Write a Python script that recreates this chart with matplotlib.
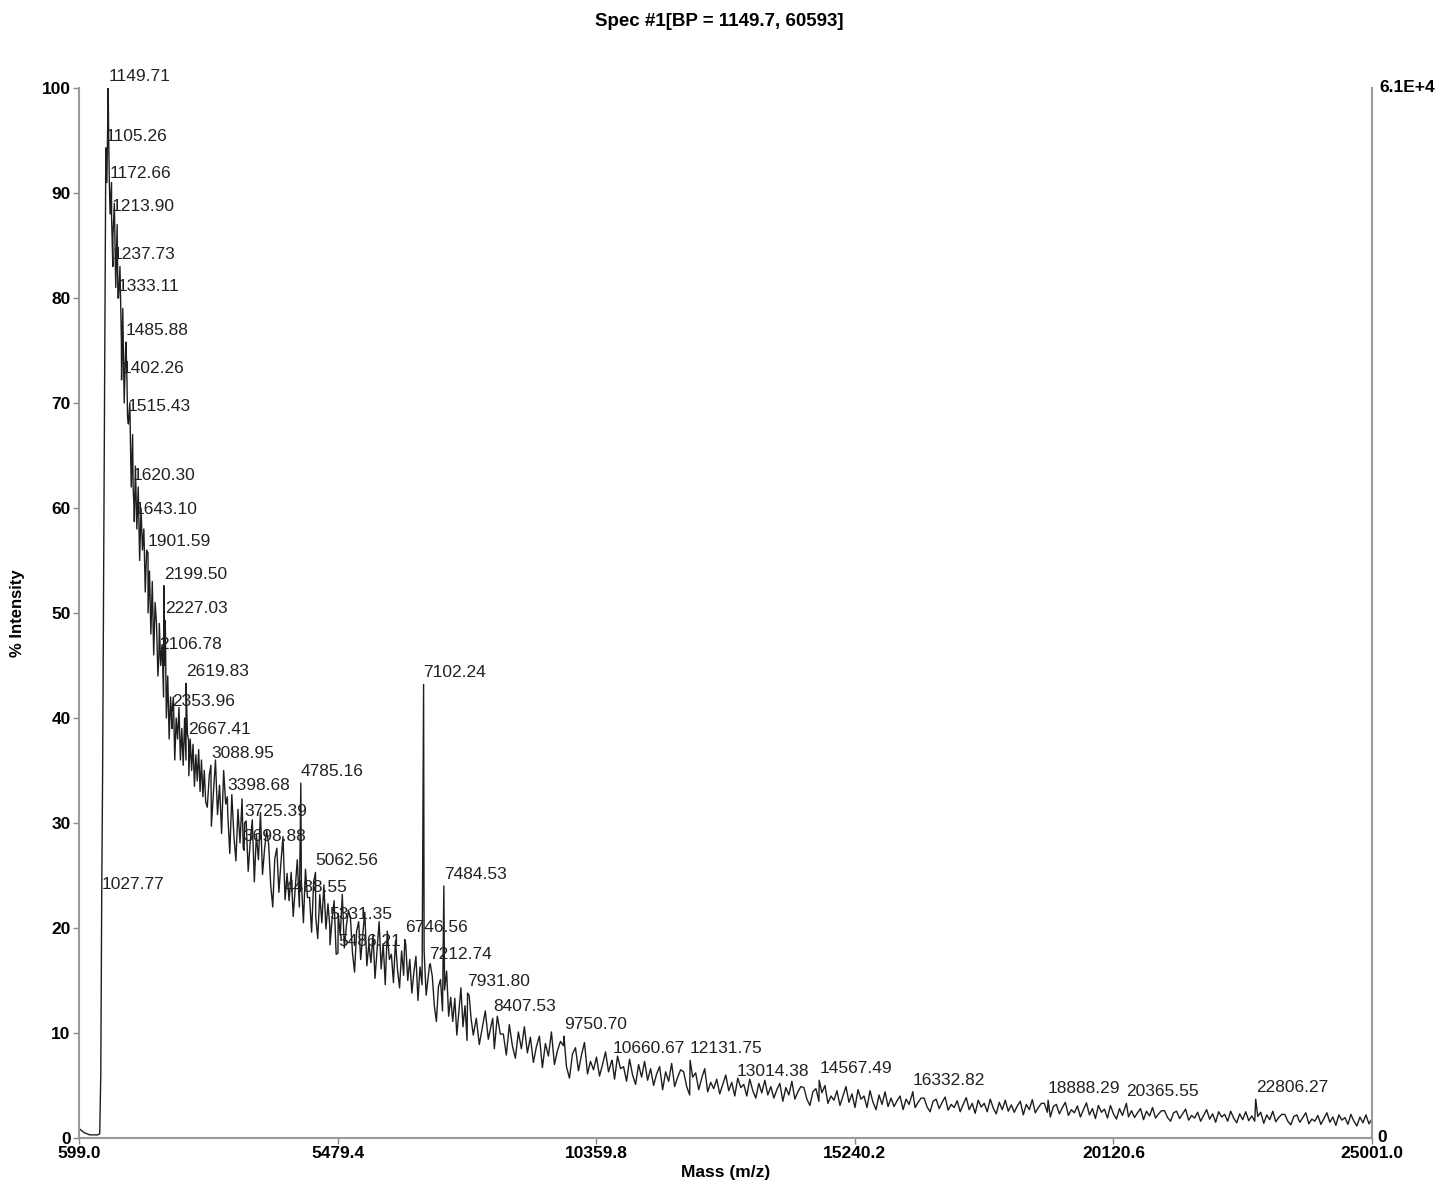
import numpy as np
import matplotlib
matplotlib.use("Agg")
import matplotlib.pyplot as plt

plt.rcParams['font.family'] = ['Liberation Sans', 'DejaVu Sans']

title = "Spec #1[BP = 1149.7, 60593]"
x_ticks = [599.0, 5479.4, 10359.8, 15240.2, 20120.6, 25001.0]
y_ticks = [0, 10, 20, 30, 40, 50, 60, 70, 80, 90, 100]
right_top_label = "6.1E+4"

# low-mass start and rising edge (mass, % intensity)
start_mass = [599, 650, 700, 750, 800, 850, 900, 950, 990, 1010, 1045, 1065, 1085, 1125]
start_int = [0.9, 0.7, 0.5, 0.4, 0.3, 0.3, 0.3, 0.3, 0.4, 6, 35, 55, 75, 91]

# profile 1160 -> 2990
segC_range = (1160, 2990)
segC_int = [95, 88, 91, 86, 89,
            81, 87, 80, 83, 76,
            79, 70, 75, 72, 68,
            70, 62, 67, 60, 64,
            58, 62, 55, 60, 56,
            58, 52, 56, 50, 54,
            48, 53, 46, 51, 49,
            44, 49, 45, 47, 42,
            45, 40, 44, 38, 42,
            39, 42, 36, 40, 38,
            41, 36, 39, 35.5, 40,
            36, 38.5, 34.5, 38, 35,
            37.5, 33.5, 36.5, 34, 37,
            33, 36, 32.5, 35, 32]

# profile 3020 -> 8000
segD_range = (3020, 8000)
segD_int = [31.5, 34.6, 29.7, 32.9, 36.0, 30.8, 33.6, 29.0, 35.0, 31.8,
            30.9, 27.1, 32.7, 28.8, 26.4, 31.3, 28.1, 32.3, 27.4, 30.2,
            25.4, 28.2, 30.3, 24.4, 28.9, 26.5, 31.0, 25.1, 27.5, 29.3,
            28.0, 24.1, 22.0, 26.6, 27.6, 23.4, 26.2, 28.7, 22.7, 25.2,
            22.6, 25.3, 21.1, 23.8, 26.5, 22.0, 24.4, 20.5, 25.6, 22.9,
            22.9, 19.6, 24.4, 21.1, 19.0, 23.2, 20.5, 24.1, 19.9, 22.3,
            18.4, 20.8, 22.6, 17.5, 21.4, 19.3, 23.2, 18.1, 20.2, 21.7,
            20.9, 17.6, 15.8, 19.7, 20.6, 17.0, 19.4, 21.5, 16.4, 18.5,
            16.7, 19.4, 15.2, 17.9, 20.6, 16.1, 18.5, 14.6, 19.7, 17.0,
            17.5, 14.8, 18.8, 16.0, 14.3, 17.8, 15.5, 18.5, 15.0, 17.0,
            13.8, 15.8, 17.3, 13.1, 16.3, 14.6, 17.8, 13.6, 15.3, 16.6,
            15.4, 12.6, 11.1, 14.4, 15.1, 12.1, 14.1, 15.9, 11.6, 13.4,
            11.1, 13.3, 9.8, 12.1, 14.3, 10.6, 12.6, 9.3, 13.6, 11.3]

# profile 8040 -> 25000
segE_range = (8040, 25000)
segE_int = [9.8, 11.4, 8.9, 10.5, 12.1, 9.4, 10.8, 8.5, 11.6, 9.9,
            9.9, 7.9, 10.8, 8.8, 7.6, 10.1, 8.5, 10.6, 8.1, 9.6,
            7.2, 8.7, 9.7, 6.7, 9.0, 7.8, 10.1, 7.0, 8.3, 9.2,
            8.8, 6.8, 5.7, 8.0, 8.6, 6.4, 7.9, 9.1, 6.1, 7.3,
            6.5, 7.7, 5.9, 7.0, 8.2, 6.3, 7.3, 5.6, 7.8, 6.6,
            6.8, 5.4, 7.5, 6.0, 5.1, 7.0, 5.8, 7.3, 5.5, 6.6,
            5.0, 6.1, 6.8, 4.6, 6.3, 5.4, 7.1, 4.9, 5.8, 6.5,
            6.3, 4.9, 4.1, 5.8, 6.2, 4.6, 5.7, 6.6, 4.4, 5.3,
            4.7, 5.6, 4.2, 5.1, 6.0, 4.5, 5.3, 4.0, 5.7, 4.8,
            5.1, 4.0, 5.6, 4.5, 3.8, 5.2, 4.3, 5.5, 4.1, 4.9,
            3.8, 4.6, 5.2, 3.5, 4.8, 4.1, 5.4, 3.7, 4.4, 4.9,
            4.8, 3.7, 3.1, 4.4, 4.7, 3.5, 4.3, 5.0, 3.3, 4.0,
            3.6, 4.5, 3.1, 4.0, 4.9, 3.4, 4.2, 2.9, 4.6, 3.7,
            4.0, 2.9, 4.5, 3.4, 2.7, 4.1, 3.2, 4.4, 3.0, 3.8,
            3.0, 3.55, 4.0, 2.7, 3.7, 3.2, 4.15, 2.9, 3.4, 3.8,
            3.8, 2.95, 2.5, 3.5, 3.7, 2.8, 3.4, 3.9, 2.65, 3.2,
            2.9, 3.55, 2.5, 3.2, 3.85, 2.7, 3.3, 2.35, 3.6, 2.95,
            3.3, 2.5, 3.7, 2.85, 2.3, 3.4, 2.7, 3.6, 2.55, 3.15,
            2.45, 3.05, 3.5, 2.2, 3.2, 2.7, 3.65, 2.4, 2.9, 3.3,
            3.3, 2.45, 2.0, 3.0, 3.2, 2.3, 2.9, 3.4, 2.15, 2.7,
            2.4, 3.05, 2.0, 2.7, 3.35, 2.2, 2.8, 1.85, 3.1, 2.45,
            2.75, 1.9, 3.1, 2.3, 1.8, 2.8, 2.15, 3.05, 2.0, 2.6,
            1.95, 2.4, 2.8, 1.75, 2.55, 2.1, 2.9, 1.9, 2.3, 2.6,
            2.6, 1.95, 1.6, 2.4, 2.55, 1.85, 2.3, 2.75, 1.7, 2.15,
            1.9, 2.45, 1.6, 2.15, 2.7, 1.8, 2.3, 1.5, 2.5, 2.0,
            2.25, 1.6, 2.55, 1.9, 1.45, 2.3, 1.75, 2.5, 1.65, 2.1,
            1.6, 2.05, 2.45, 1.4, 2.2, 1.75, 2.55, 1.55, 1.95, 2.25,
            2.25, 1.6, 1.25, 2.05, 2.2, 1.5, 1.95, 2.4, 1.35, 1.8,
            1.6, 2.15, 1.3, 1.85, 2.4, 1.5, 2.0, 1.2, 2.2, 1.7,
            1.95, 1.3, 2.25, 1.6, 1.15, 2.0, 1.45, 2.2, 1.35, 1.8]

# labelled peaks
peak_mass = [1027.77, 1105.26, 1149.71, 1172.66, 1213.90, 1237.73, 1333.11, 1402.26,
             1485.88, 1515.43, 1620.30, 1643.10, 1901.59, 2106.78, 2199.50, 2227.03,
             2353.96, 2619.83, 2667.41, 3088.95, 3398.68, 3698.88, 3725.39, 4488.55,
             4785.16, 5062.56, 5331.35, 5486.21, 6746.56, 7102.24, 7212.74, 7484.53,
             7931.80, 8407.53, 9750.70, 10660.67, 12131.75, 13014.38, 14567.49,
             16332.82, 18888.29, 20365.55, 22806.27]
peak_int = [23, 94.3, 100, 90.7, 87.6, 83, 80, 72.2,
            75.8, 68.6, 62, 58.7, 55.7, 45.9, 52.6, 49.3,
            40.5, 43.3, 37.8, 35.5, 32.5, 27.6, 30, 22.7,
            33.8, 25.3, 20.2, 17.6, 18.9, 43.2, 16.4, 24,
            13.8, 11.4, 9.7, 7.4, 7.4, 5.2, 5.5,
            4.4, 3.6, 3.3, 3.7]

# assemble
prof_mass = np.concatenate([
    np.linspace(*segC_range, len(segC_int)),
    np.linspace(*segD_range, len(segD_int)),
    np.linspace(*segE_range, len(segE_int)),
])
prof_int = np.concatenate([np.array(segC_int, float), np.array(segD_int, float),
                           np.array(segE_int, float)])
mass = np.concatenate([np.array(start_mass, float), prof_mass, np.array(peak_mass, float)])
inten = np.concatenate([np.array(start_int, float), prof_int, np.array(peak_int, float)])
order = np.argsort(mass)
mass, inten = mass[order], inten[order]

fig = plt.figure(figsize=(14.54, 11.86), dpi=100)
ax = fig.add_axes([79/1454, 48/1186, 1293/1454, 1050/1186])
ax.plot(mass, inten, color='#1e1e1e', lw=1.0)

for m, h in zip(peak_mass, peak_int):
    ax.annotate(f"{m:.2f}", xy=(m, h), xytext=(0, 3), textcoords='offset points',
                ha='left', va='bottom', fontsize=12.5, color='#222222',
                annotation_clip=False)

ax.set_xlim(x_ticks[0], x_ticks[-1])
ax.set_ylim(0, 100)
ax.set_xticks(x_ticks)
ax.set_xticklabels([f"{v:.1f}" for v in x_ticks], fontweight='bold', fontsize=12.5)
ax.set_yticks(y_ticks)
ax.set_yticklabels([str(v) for v in y_ticks], fontweight='bold', fontsize=12.5)
ax.tick_params(axis='both', length=4, width=1, color='#888888', pad=2)

for s in ['left', 'bottom', 'right']:
    ax.spines[s].set_color('#9a9a9a')
    ax.spines[s].set_linewidth(1.5)
ax.spines['top'].set_visible(False)

ax.set_xlabel("Mass (m/z)", fontweight='bold', fontsize=12.5, labelpad=3)
ax.set_ylabel("% Intensity", fontweight='bold', fontsize=12, labelpad=12)
fig.text(0.495, 1 - 22/1186, title, ha='center', va='center', fontweight='bold', fontsize=13.5)

ax.text(1.006, 1.0, right_top_label, transform=ax.transAxes, ha='left', va='center',
        fontweight='bold', fontsize=12.5)
ax.text(1.004, 0.0, "0", transform=ax.transAxes, ha='left', va='center',
        fontweight='bold', fontsize=12.5)

fig.savefig("out.png", dpi=100)
